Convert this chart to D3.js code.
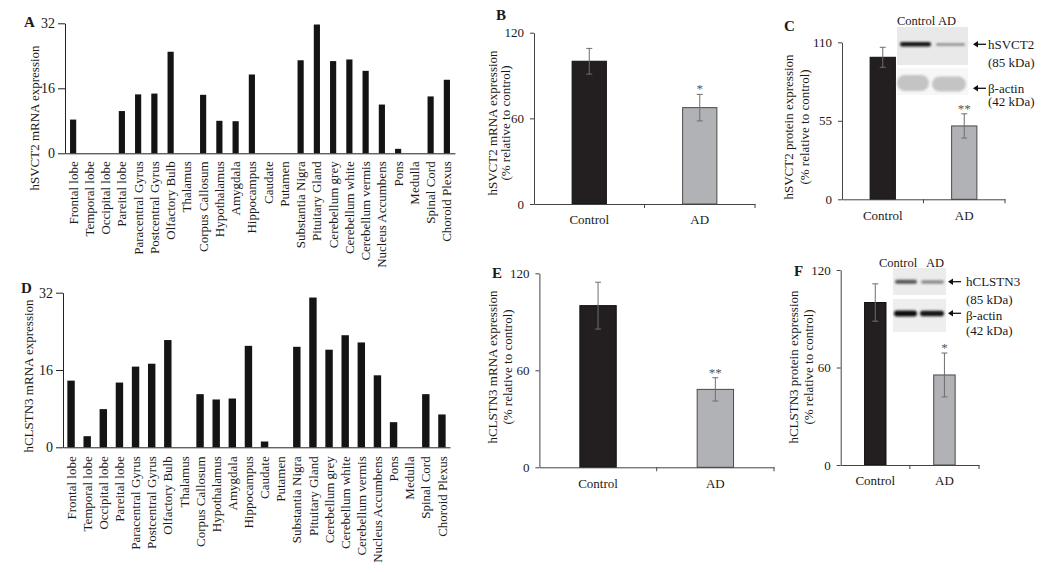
<!DOCTYPE html>
<html>
<head>
<meta charset="utf-8">
<script src="https://cdn.jsdelivr.net/npm/d3@7"></script>
<style>
  body { margin: 0; background: #fff; }
  svg text { font-family: "Liberation Serif", "Times New Roman", serif; fill: #1a1a1a; }
</style>
</head>
<body>
<div id="chart"></div>
<script>
// ---- DATA ----
const regions = ["Frontal lobe", "Temporal lobe", "Occipital lobe", "Pareital lobe",
  "Paracentral Gyrus", "Postcentral Gyrus", "Olfactory Bulb", "Thalamus",
  "Corpus Callosum", "Hypothalamus", "Amygdala", "Hippocampus", "Caudate", "Putamen",
  "Substantia Nigra", "Pituitary Gland", "Cerebellum grey", "Cerebellum white",
  "Cerebellum vermis", "Nucleus Accumbens", "Pons", "Medulla", "Spinal Cord", "Choroid Plexus"];
const svct2Regions = [8.3, 0, 0, 10.4, 14.5, 14.7, 25.0, 0, 14.4, 8.0, 7.9, 19.4, 0, 0,
  22.9, 31.7, 22.7, 23.1, 20.3, 12.0, 1.1, 0, 14.0, 18.1];
const clstn3Regions = [13.8, 2.3, 7.9, 13.4, 16.7, 17.3, 22.2, 0, 11.0, 9.9, 10.1, 21.0, 1.2, 0,
  20.8, 31.0, 20.2, 23.2, 21.7, 14.9, 5.2, 0, 11.0, 6.8];
const regionTicks = [0, 16, 32];

const groups = ["Control", "AD"];
const svct2Mrna = [100, 67.5];
const svct2MrnaErr = [9, 9.3];
const svct2Protein = [99.5, 51.4];
const svct2ProteinErr = [7, 8.5];
const clstn3Mrna = [100, 48.2];
const clstn3MrnaErr = [14.5, 7.2];
const clstn3Protein = [100, 55.4];
const clstn3ProteinErr = [11.5, 13.5];
const sigB = ["", "*"];
const sigC = ["", "**"];
const sigE = ["", "**"];
const sigF = ["", "*"];
const ticks120 = [0, 60, 120];
const ticks110 = [0, 55, 110];

const width = 1050;
const height = 573;

const svg = d3.select("#chart")
  .append("svg")
  .attr("width", width)
  .attr("height", height);

svg.append("rect").attr("width", width).attr("height", height).attr("fill", "#fff");

const defs = svg.append("defs");
defs.append("filter").attr("id", "blur").attr("x", "-20%").attr("y", "-60%")
  .attr("width", "140%").attr("height", "220%")
  .append("feGaussianBlur").attr("stdDeviation", 0.9);

// ---- REGION BAR CHART (A, D) ----
function drawRegionChart(o) {
  const x = d3.scaleBand()
    .domain(regions)
    .range(o.xRange)
    .paddingInner(o.pad)
    .paddingOuter(o.pad / 2);

  const y = d3.scaleLinear()
    .domain([0, 32])
    .range(o.yRange);

  const g = svg.append("g");

  g.selectAll("rect")
    .data(o.values)
    .enter()
    .append("rect")
    .attr("x", (d, i) => x(regions[i]))
    .attr("y", d => y(d))
    .attr("width", x.bandwidth())
    .attr("height", d => y(0) - y(d))
    .attr("fill", "#141414");

  // x axis with vertical labels
  const xa = g.append("g")
    .attr("transform", `translate(0,${y(0)})`)
    .call(d3.axisBottom(x).tickSize(0).tickSizeOuter(0));
  xa.select(".domain").attr("stroke", "#222");
  xa.selectAll("text")
    .attr("transform", "rotate(-90)")
    .attr("x", -o.labelGap)
    .attr("y", 0)
    .attr("dy", "0.35em")
    .style("text-anchor", "end")
    .style("font-size", "13px");

  const ya = g.append("g")
    .attr("transform", `translate(${o.xRange[0]},0)`)
    .call(d3.axisLeft(y).tickValues(regionTicks).tickSize(7).tickPadding(3).tickSizeOuter(0));
  ya.select(".domain").attr("stroke", "#222");
  ya.selectAll("line").attr("stroke", "#222");
  ya.selectAll("text").style("font-size", "14px");

  g.append("text")
    .attr("transform", `translate(${o.titleX},${o.titleY}) rotate(-90)`)
    .attr("text-anchor", "middle")
    .style("font-size", "13px")
    .text(o.title);

  g.append("text")
    .attr("x", o.letter[0]).attr("y", o.letter[1])
    .style("font-size", "15px").style("font-weight", "bold")
    .text(o.letterText);
}

// ---- CONTROL vs AD CHART (B, C, E, F) ----
function drawGroupChart(o) {
  const x = d3.scaleBand()
    .domain(groups)
    .range(o.xRange);

  const y = d3.scaleLinear()
    .domain([0, o.ticks[o.ticks.length - 1]])
    .range(o.yRange);

  const bw = x.bandwidth() * 0.31;
  const g = svg.append("g");

  g.selectAll("rect.bar")
    .data(o.values)
    .enter()
    .append("rect")
    .attr("class", "bar")
    .attr("x", (d, i) => x(groups[i]) + x.bandwidth() / 2 - bw / 2)
    .attr("y", d => y(d))
    .attr("width", bw)
    .attr("height", d => y(0) - y(d))
    .attr("fill", (d, i) => i === 0 ? "#231f20" : "#b1b2b6")
    .attr("stroke", (d, i) => i === 0 ? "#111" : "#4a4a4a")
    .attr("stroke-width", 1);

  // error bars
  const eb = g.selectAll("g.err")
    .data(o.values)
    .enter()
    .append("g")
    .attr("class", "err")
    .attr("stroke", "#6e6e6e")
    .attr("stroke-width", 1);
  eb.append("line")
    .attr("x1", (d, i) => x(groups[i]) + x.bandwidth() / 2)
    .attr("x2", (d, i) => x(groups[i]) + x.bandwidth() / 2)
    .attr("y1", (d, i) => y(d + o.errors[i]))
    .attr("y2", (d, i) => y(d - o.errors[i]));
  [1, -1].forEach(s => {
    eb.append("line")
      .attr("x1", (d, i) => x(groups[i]) + x.bandwidth() / 2 - 3)
      .attr("x2", (d, i) => x(groups[i]) + x.bandwidth() / 2 + 3)
      .attr("y1", (d, i) => y(d + s * o.errors[i]))
      .attr("y2", (d, i) => y(d + s * o.errors[i]));
  });

  // significance marks
  g.selectAll("text.sig")
    .data(o.values)
    .enter()
    .append("text")
    .attr("class", "sig")
    .attr("x", (d, i) => x(groups[i]) + x.bandwidth() / 2)
    .attr("y", (d, i) => y(d + o.errors[i]) - 1)
    .attr("text-anchor", "middle")
    .style("font-size", "13px")
    .style("fill", "#555")
    .text((d, i) => o.sig[i]);

  const xa = g.append("g")
    .attr("transform", `translate(0,${y(0)})`)
    .call(d3.axisBottom(x).tickSize(0).tickPadding(11).tickSizeOuter(0));
  xa.select(".domain").attr("stroke", "#444");
  xa.selectAll("text").style("font-size", "13px");
  // tick marks between categories
  xa.selectAll("line.sep")
    .data(groups.slice(1).concat(["end"]))
    .enter()
    .append("line")
    .attr("class", "sep")
    .attr("x1", d => d === "end" ? o.xRange[1] : x(d))
    .attr("x2", d => d === "end" ? o.xRange[1] : x(d))
    .attr("y1", 0).attr("y2", 4)
    .attr("stroke", "#444");

  const ya = g.append("g")
    .attr("transform", `translate(${o.xRange[0]},0)`)
    .call(d3.axisLeft(y).tickValues(o.ticks).tickSize(4).tickPadding(6).tickSizeOuter(0));
  ya.select(".domain").attr("stroke", "#444");
  ya.selectAll("line").attr("stroke", "#444");
  ya.selectAll("text").style("font-size", "13px");

  const t = g.append("text")
    .attr("transform", `translate(${o.titleX},${o.titleY}) rotate(-90)`)
    .attr("text-anchor", "middle")
    .style("font-size", "13px");
  t.append("tspan").attr("x", 0).attr("dy", 0).text(o.title);
  t.append("tspan").attr("x", 0).attr("dy", o.titleGap).text("(% relative to control)");

  g.append("text")
    .attr("x", o.letter[0]).attr("y", o.letter[1])
    .style("font-size", "15px").style("font-weight", "bold")
    .text(o.letterText);
}

// ---- WESTERN BLOT INSET ----
function drawBlot(o) {
  const g = svg.append("g");
  o.heads.forEach(h => {
    g.append("text").attr("x", h.x).attr("y", h.y)
      .style("font-size", "12.5px").text(h.t);
  });
  o.panels.forEach(p => {
    g.append("rect").attr("x", p.x).attr("y", p.y)
      .attr("width", p.w).attr("height", p.h).attr("fill", p.fill);
    p.bands.forEach(b => {
      g.append("rect")
        .attr("x", b.x).attr("y", b.cy - b.h / 2)
        .attr("width", b.w).attr("height", b.h)
        .attr("rx", b.h / 2)
        .attr("fill", b.c)
        .attr("filter", "url(#blur)");
    });
  });
  o.arrows.forEach(a => {
    g.append("line").attr("x1", a.x + 3).attr("x2", a.x + 13)
      .attr("y1", a.y).attr("y2", a.y)
      .attr("stroke", "#111").attr("stroke-width", 1.3);
    g.append("path")
      .attr("d", `M${a.x},${a.y} l5,-3.2 l0,6.4 z`)
      .attr("fill", "#111");
  });
  o.texts.forEach(tx => {
    g.append("text").attr("x", tx.x).attr("y", tx.y)
      .style("font-size", "13px").text(tx.t);
  });
}

drawRegionChart({
  values: svct2Regions, xRange: [65, 455], yRange: [153.3, 23.3], pad: 0.62,
  labelGap: 8, title: "hSVCT2 mRNA expression", titleX: 39, titleY: 118,
  letter: [24, 27], letterText: "A"
});

drawRegionChart({
  values: clstn3Regions, xRange: [63, 450], yRange: [447.3, 292.7], pad: 0.54,
  labelGap: 9, title: "hCLSTN3 mRNA expression", titleX: 33, titleY: 376,
  letter: [21, 293], letterText: "D"
});

drawGroupChart({
  values: svct2Mrna, errors: svct2MrnaErr, sig: sigB, ticks: ticks120,
  xRange: [534, 755], yRange: [204, 32.7],
  title: "hSVCT2 mRNA expression", titleX: 496.5, titleY: 123, titleGap: 13,
  letter: [496, 20], letterText: "B"
});

drawGroupChart({
  values: svct2Protein, errors: svct2ProteinErr, sig: sigC, ticks: ticks110,
  xRange: [842, 1005], yRange: [199.3, 42.3],
  title: "hSVCT2 protein expression", titleX: 793, titleY: 127, titleGap: 15.5,
  letter: [784, 31], letterText: "C"
});

drawGroupChart({
  values: clstn3Mrna, errors: clstn3MrnaErr, sig: sigE, ticks: ticks120,
  xRange: [539.4, 774], yRange: [467.3, 273.3],
  title: "hCLSTN3 mRNA  expression", titleX: 496.5, titleY: 367, titleGap: 15,
  letter: [492, 278], letterText: "E"
});

drawGroupChart({
  values: clstn3Protein, errors: clstn3ProteinErr, sig: sigF, ticks: ticks120,
  xRange: [840.7, 979], yRange: [465, 270],
  title: "hCLSTN3 protein expression", titleX: 797.5, titleY: 367, titleGap: 15,
  letter: [794, 276], letterText: "F"
});

drawBlot({
  heads: [{ t: "Control", x: 897, y: 24.5 }, { t: "AD", x: 938, y: 24.5 }],
  panels: [
    { x: 897, y: 27, w: 71, h: 38, fill: "#e9e9e9", bands: [
      { x: 900, w: 31, cy: 44.3, h: 4.5, c: "#141414" },
      { x: 936, w: 29, cy: 44.6, h: 2.5, c: "#8c8c8c" }] },
    { x: 897, y: 68, w: 71, h: 27, fill: "#f7f7f7", bands: [
      { x: 897, w: 32, cy: 83, h: 16, c: "#c4c4c4" },
      { x: 932, w: 34, cy: 84, h: 15, c: "#c4c4c4" }] }
  ],
  arrows: [{ x: 973, y: 44.3 }, { x: 973, y: 88.3 }],
  texts: [
    { t: "hSVCT2", x: 988, y: 49 },
    { t: "(85 kDa)", x: 988, y: 67 },
    { t: "\u03b2-actin", x: 988, y: 92.5 },
    { t: "(42 kDa)", x: 988, y: 106 }
  ]
});

drawBlot({
  heads: [{ t: "Control", x: 879, y: 267 }, { t: "AD", x: 926, y: 267 }],
  panels: [
    { x: 893, y: 268, w: 53, h: 27, fill: "#ececec", bands: [
      { x: 895, w: 22, cy: 281.7, h: 4, c: "#555" },
      { x: 921, w: 23, cy: 282, h: 3.5, c: "#8a8a8a" }] },
    { x: 893, y: 299, w: 53, h: 33, fill: "#eeeeee", bands: [
      { x: 894, w: 23, cy: 313.5, h: 6, c: "#111" },
      { x: 920, w: 24, cy: 313.5, h: 5.5, c: "#151515" }] }
  ],
  arrows: [{ x: 948, y: 281.7 }, { x: 948, y: 313.3 }],
  texts: [
    { t: "hCLSTN3", x: 966, y: 286 },
    { t: "(85 kDa)", x: 966, y: 303.5 },
    { t: "\u03b2-actin", x: 966, y: 319.5 },
    { t: "(42 kDa)", x: 966, y: 334.5 }
  ]
});
</script>
</body>
</html>
